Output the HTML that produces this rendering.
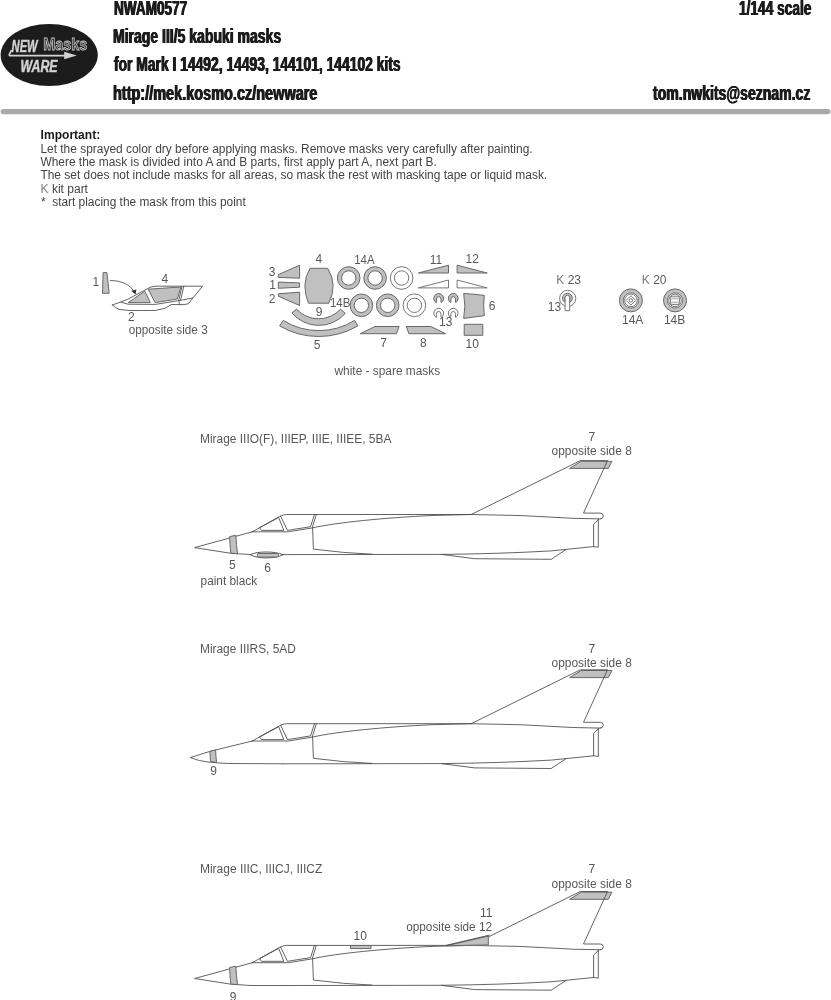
<!DOCTYPE html>
<html lang="en">
<head>
<meta charset="utf-8">
<title>NWAM0577 Mirage III/5 kabuki masks</title>
<style>
html,body{margin:0;padding:0;background:#fff;}
#page{position:absolute;left:0;top:0;width:831px;height:1000px;overflow:hidden;background:#fff;filter:grayscale(1);}
body{width:831px;height:1000px;overflow:hidden;position:relative;}
svg{display:block;position:absolute;left:0;top:0;}
text{font-family:"Liberation Sans",sans-serif;}
.h{position:absolute;white-space:nowrap;font-family:"Liberation Sans",sans-serif;font-weight:bold;font-size:21px;line-height:1;color:#1c1c1c;transform-origin:0 0;text-shadow:0.7px 0 0 #1c1c1c,-0.7px 0 0 #1c1c1c;margin:0;padding:0;}
.ln{fill:none;stroke:#484848;stroke-width:0.85;stroke-linejoin:round;stroke-linecap:round;}
.mk{fill:#c0c0c0;stroke:#686868;stroke-width:1;stroke-linejoin:round;}
.sp{fill:#fff;stroke:#686868;stroke-width:0.9;stroke-linejoin:round;}
</style>
</head>
<body>
<div id="page">
<svg width="831" height="1000" viewBox="0 0 831 1000" font-size="12" fill="#585858">

<g class="logo">
<ellipse cx="49.2" cy="55" rx="48.6" ry="31" fill="#1c1c1c"/>
<text x="11.6" y="52" font-size="17.2" font-weight="bold" font-style="italic" fill="#d2d2d2" stroke="#d2d2d2" stroke-width="0.5" textLength="26" lengthAdjust="spacingAndGlyphs">NEW</text>
<text x="20.6" y="72" font-size="17.2" font-weight="bold" font-style="italic" fill="#d2d2d2" stroke="#d2d2d2" stroke-width="0.5" textLength="37" lengthAdjust="spacingAndGlyphs">WARE</text>
<text x="43.2" y="49.8" font-size="16.8" font-weight="bold" fill="#3a3a3a" stroke="#c4c4c4" stroke-width="0.8" textLength="44.2" lengthAdjust="spacingAndGlyphs">Masks</text>
<path d="M11.4 50 L9.4 54.4 Q8.8 55.7 10.6 55.7 L66 55.7" fill="none" stroke="#d2d2d2" stroke-width="1.7" stroke-linejoin="round"/>
<path d="M64.2 51.8 L76.8 55.5 L64.2 59.2 Z" fill="#d2d2d2"/>
</g>
<rect x="0.6" y="109" width="829.8" height="5.2" rx="2.6" fill="#a9a9a9"/>
<g>
<text x="40.6" y="139" fill="#1a1a1a" font-weight="bold" textLength="59.6" lengthAdjust="spacingAndGlyphs">Important:</text>
<text x="40.4" y="153" fill="#444444" textLength="492.2" lengthAdjust="spacingAndGlyphs">Let the sprayed color dry before applying masks. Remove masks very carefully after painting.</text>
<text x="40.4" y="166" fill="#444444" textLength="396.4" lengthAdjust="spacingAndGlyphs">Where the mask is divided into A and B parts, first apply part A, next part B.</text>
<text x="40.4" y="179" fill="#444444" textLength="506.8" lengthAdjust="spacingAndGlyphs">The set does not include masks for all areas, so mask the rest with masking tape or liquid mask.</text>
<text x="40.6" y="192.6" fill="#444444"><tspan fill="#7c7c7c">K</tspan> kit part</text>
<text x="41" y="205.6" fill="#444444">* <tspan x="52.2" textLength="193.6" lengthAdjust="spacingAndGlyphs">start placing the mask from this point</tspan></text>
</g>
<g class="canopy">
<path class="mk" d="M103.1 272.6 L106.9 272.6 L109.2 293.3 L102.5 293.3 Z"/>
<text x="95.8" y="286.3" text-anchor="middle">1</text>
<path class="ln" d="M110.3 280.5 C122 280.5 131 285 134.6 292.5"/>
<path d="M135.6 294.6 L131.2 290.8 L136.4 289.6 Z" fill="#333"/>
<path class="ln" d="M112.5 305 L127.5 299.4 L145 290 Q150.5 286.4 155 286.2 L202.6 286.2 L188.2 303.8 Q184 305 180 304.6 L171.3 304.5 L165 308.3 L155 310.5 L130 310.5 L119 309.4 Q115 307.5 112.5 305 Z"/>
<path class="ln" d="M121.3 302.3 L128 304.2 L155.5 304.4 L179.4 300.5 L192.6 298.1"/>
<path class="mk" d="M128.2 302.6 L144.8 291.2 L150.3 302.6 Z"/>
<path class="mk" d="M148.2 289.2 L180.8 287 L177.4 299 L155.1 302.6 Z"/>
<path class="ln" d="M182 286.4 L178.9 299.6 L179.4 304.5 M183.8 286.4 L180.6 300"/>
<text x="164.8" y="283.1" text-anchor="middle">4</text>
<text x="131.4" y="321" text-anchor="middle">2</text>
<text x="128.7" y="334" textLength="79" lengthAdjust="spacingAndGlyphs">opposite side 3</text>
</g>
<g class="sheet">
<text x="272" y="276" text-anchor="middle">3</text>
<text x="272.6" y="289" text-anchor="middle">1</text>
<text x="272" y="302.8" text-anchor="middle">2</text>
<path class="mk" d="M278.3 274.7 L299.6 265.2 L299.6 278.2 L278.3 277.4 Z"/>
<path class="mk" d="M278.3 282.1 L299.6 282.9 L299.6 287.2 L278.3 288.3 Z"/>
<path class="mk" d="M278.3 293.8 L299.6 292.2 L299.6 305.5 L278.3 296.2 Z"/>
<path class="mk" d="M310.1 268.3 L327.6 268.3 Q333.1 277 333.1 285.7 Q333.1 295 328.8 303.2 L308.5 303.2 Q304.9 295 304.9 285.7 Q304.9 277 310.1 268.3 Z"/>
<text x="318.9" y="263" text-anchor="middle">4</text>
<text x="364.4" y="264.4" text-anchor="middle" textLength="20.4" lengthAdjust="spacingAndGlyphs">14A</text>
<text x="340.2" y="307" text-anchor="middle" textLength="20.4" lengthAdjust="spacingAndGlyphs">14B</text>
<path class="mk" fill-rule="evenodd" d="M337.4 278 a11.3 11.3 0 1 0 22.6 0 a11.3 11.3 0 1 0 -22.6 0 Z M341.5 278 a7.2 7.2 0 1 0 14.4 0 a7.2 7.2 0 1 0 -14.4 0 Z"/>
<path class="mk" fill-rule="evenodd" d="M363.8 278 a11.3 11.3 0 1 0 22.6 0 a11.3 11.3 0 1 0 -22.6 0 Z M367.90000000000003 278 a7.2 7.2 0 1 0 14.4 0 a7.2 7.2 0 1 0 -14.4 0 Z"/>
<path class="sp" fill-rule="evenodd" d="M390.3 278 a11.3 11.3 0 1 0 22.6 0 a11.3 11.3 0 1 0 -22.6 0 Z M394.40000000000003 278 a7.2 7.2 0 1 0 14.4 0 a7.2 7.2 0 1 0 -14.4 0 Z"/>
<path class="mk" fill-rule="evenodd" d="M350.09999999999997 305.3 a11.3 11.3 0 1 0 22.6 0 a11.3 11.3 0 1 0 -22.6 0 Z M354.2 305.3 a7.2 7.2 0 1 0 14.4 0 a7.2 7.2 0 1 0 -14.4 0 Z"/>
<path class="mk" fill-rule="evenodd" d="M376.4 305.3 a11.3 11.3 0 1 0 22.6 0 a11.3 11.3 0 1 0 -22.6 0 Z M380.5 305.3 a7.2 7.2 0 1 0 14.4 0 a7.2 7.2 0 1 0 -14.4 0 Z"/>
<path class="sp" fill-rule="evenodd" d="M403.09999999999997 305.3 a11.3 11.3 0 1 0 22.6 0 a11.3 11.3 0 1 0 -22.6 0 Z M407.2 305.3 a7.2 7.2 0 1 0 14.4 0 a7.2 7.2 0 1 0 -14.4 0 Z"/>
<path class="mk" d="M291.8 312.9 A35.3 35.3 0 0 0 345.3 313.4 L340.6 309.1 A29.9 29.9 0 0 1 296.5 309.1 Z"/>
<path class="mk" d="M279.6 325.9 A77.4 77.4 0 0 0 357.8 325.9 L354.6 320.4 A67.6 67.6 0 0 1 283.2 320.4 Z"/>
<text x="319.1" y="315.8" text-anchor="middle">9</text>
<text x="317.1" y="349.3" text-anchor="middle">5</text>
<path class="mk" d="M360.1 333.7 L375 326.5 L399.1 326.5 L396.4 333.7 Z"/>
<path class="mk" d="M406.3 326.5 L430.8 326.5 L445.7 333.7 L408.9 333.7 Z"/>
<text x="383.6" y="346.9" text-anchor="middle">7</text>
<text x="423.3" y="347.4" text-anchor="middle">8</text>
<path class="mk" d="M418.3 273 L448.5 265.2 L448.5 273 Z"/>
<path class="mk" d="M457.1 265.2 L487.2 273 L457.1 273 Z"/>
<path class="sp" d="M418.3 287.9 L448.5 280 L448.5 287.9 Z"/>
<path class="sp" d="M457.1 280 L487.2 287.9 L457.1 287.9 Z"/>
<text x="436" y="264" text-anchor="middle">11</text>
<text x="472.3" y="262.9" text-anchor="middle">12</text>
<path class="mk" d="M436.09999999999997 302.59999999999997 A4.9 4.9 0 1 1 441.3 302.59999999999997 L441.0 302.4 L441.0 299.0 A2.3 2.3 0 0 0 436.4 299.0 L436.4 302.4 Z"/>
<path class="mk" d="M450.59999999999997 302.59999999999997 A4.9 4.9 0 1 1 455.8 302.59999999999997 L455.5 302.4 L455.5 299.0 A2.3 2.3 0 0 0 450.9 299.0 L450.9 302.4 Z"/>
<path class="sp" d="M436.09999999999997 317.4 A4.9 4.9 0 1 1 441.3 317.4 L441.0 317.2 L441.0 313.8 A2.3 2.3 0 0 0 436.4 313.8 L436.4 317.2 Z"/>
<path class="sp" d="M450.59999999999997 317.4 A4.9 4.9 0 1 1 455.8 317.4 L455.5 317.2 L455.5 313.8 A2.3 2.3 0 0 0 450.9 313.8 L450.9 317.2 Z"/>
<text x="445.7" y="326.3" text-anchor="middle">13</text>
<path class="mk" d="M463.7 293.5 Q474 294 484.3 295.4 Q483 305.5 484.3 315.7 Q474 317 463.7 318.4 Q466 306 463.7 293.5 Z"/>
<text x="492.2" y="310.2" text-anchor="middle">6</text>
<rect class="mk" x="464.2" y="324.3" width="18.6" height="11"/>
<text x="472.3" y="347.9" text-anchor="middle">10</text>
<text x="334.5" y="375.3" textLength="105.7" lengthAdjust="spacingAndGlyphs">white - spare masks</text>
</g>
<g class="kparts">
<text x="556.3" y="284.1"><tspan fill="#7c7c7c">K</tspan> 23</text>
<text x="641.8" y="284.1"><tspan fill="#7c7c7c">K</tspan> 20</text>
<text x="554.4" y="310.6" text-anchor="middle">13</text>
<circle class="sp" cx="567.7" cy="298.4" r="8.1"/>
<path class="mk" d="M564.4 302 A4.9 4.9 0 1 1 570.4 302 L569.7 302 L569.7 297 L565.1 297 L565.1 302 Z"/>
<path class="sp" d="M565.1 310.7 L565.1 297.6 A2.3 2.3 0 0 1 569.7 297.6 L569.7 310.7 Z"/>
<circle class="mk" cx="630.9" cy="300.4" r="11.5"/>
<circle class="sp" cx="630.9" cy="300.4" r="7.6"/>
<circle class="sp" cx="630.9" cy="300.4" r="6.3"/>
<circle class="mk" cx="675.0" cy="300.4" r="11.5"/>
<circle class="sp" cx="675.0" cy="300.4" r="7.6"/>
<circle class="sp" cx="675.0" cy="300.4" r="6.3"/>
<path class="sp" d="M626.2 300.4 L630.9 295.7 L635.6 300.4 L630.9 305.1 Z"/>
<circle class="sp" cx="630.9" cy="300.4" r="1.7"/>
<rect class="sp" x="670.6" y="296.2" width="8.8" height="8.4" rx="1.6"/>
<rect x="671.4" y="297.4" width="7.2" height="2" fill="#c0c0c0"/>
<rect x="671.4" y="301.4" width="7.2" height="2" fill="#c0c0c0"/>
<text x="632.7" y="324" text-anchor="middle">14A</text>
<text x="674.6" y="324" text-anchor="middle">14B</text>
</g>
<g transform="translate(0,0.3)">
<path class="ln" d="M252.3 531.5 L194.6 547.3 L230.8 553 L251 554.3 L283 554.3"/>
<path class="mk" fill="#b6b6b6" d="M229.6 536.3 L235.8 535 Q236.3 544 237.5 553.4 L230.8 552.8 Q229.8 544 229.6 536.3 Z"/>
<path class="ln" d="M252.3 531.5 L279.8 516.1 Q283.5 514.2 286.5 514.2 L470.8 514.2"/>
<path class="ln" d="M278.3 517.4 L259.5 527.4 L261.5 530.1 L283.4 530.1 Z M280.6 515.8 L287.5 530.1 L310.6 526.4 L314.4 514.3 M316.3 514.3 L312.3 527.4"/>
<path class="ln" d="M252.3 531.5 L288.4 531.5 L312.4 527.6 C336 522.2 385 517.4 432 515.2 L471.2 514.2"/>
<path class="ln" d="M471.2 514.2 Q520 514.4 572.8 518 L600.3 518.6"/>
<path class="mk" fill="#b6b6b6" d="M569.6 468.1 L581.2 461 L611.9 461 L608.3 468.1 Z"/>
<path class="ln" d="M471.2 514.2 L580.3 460.3 L607.5 460.3 L583.5 512.8 L600.3 512.8 Q603.3 512.8 603.3 515.7 Q603.3 518.6 600.3 518.6"/>
<path class="ln" d="M598.3 518.6 L598.3 546.9 L593.6 546.3 L593.6 523.8 L598.3 519.4"/>
<path class="ln" d="M283 554.3 L441.4 554.1 Q500 553.5 551.2 550.6 L593.6 546.3"/>
<path class="ln" d="M441.4 554.1 L474.6 558.4 L551.2 559 L565.6 549.5"/>
<path class="ln" d="M312.6 527.6 L313.4 548.8 L343.3 552.1 L372 553.9"/>
<path class="sp" style="stroke:#484848" d="M250.3 554.4 Q256 551.7 266 551.7 Q277 551.7 283 554.4 Q277 557.6 266 557.6 Q256 557.6 250.3 554.4 Z"/>
<rect class="mk" fill="#b6b6b6" x="257.4" y="553.2" width="21" height="3.6" rx="1"/>
</g>
<text x="200.0" y="443.2" textLength="191.4" lengthAdjust="spacingAndGlyphs">Mirage IIIO(F), IIIEP, IIIE, IIIEE, 5BA</text>
<text x="591.9" y="441" text-anchor="middle">7</text>
<text x="551.6" y="455" textLength="80.2" lengthAdjust="spacingAndGlyphs">opposite side 8</text>
<text x="232.4" y="569" text-anchor="middle">5</text>
<text x="267.6" y="572" text-anchor="middle">6</text>
<text x="200.6" y="584.7" textLength="56.5" lengthAdjust="spacingAndGlyphs">paint black</text>
<g transform="translate(0,209.5)">
<path class="ln" d="M252.3 531.5 L209.9 541.9 L190.2 548.1 L199.3 551 Q208 552.8 216.6 553.3 L228.2 554 L283 554.3"/>
<path class="mk" fill="#b6b6b6" d="M209.9 541.9 L215.6 540.5 Q215.8 547 216.6 552.9 L210.6 552.1 Q210 547 209.9 541.9 Z"/>
<path class="ln" d="M252.3 531.5 L279.8 516.1 Q283.5 514.2 286.5 514.2 L470.8 514.2"/>
<path class="ln" d="M278.3 517.4 L259.5 527.4 L261.5 530.1 L283.4 530.1 Z M280.6 515.8 L287.5 530.1 L310.6 526.4 L314.4 514.3 M316.3 514.3 L312.3 527.4"/>
<path class="ln" d="M252.3 531.5 L288.4 531.5 L312.4 527.6 C336 522.2 385 517.4 432 515.2 L471.2 514.2"/>
<path class="ln" d="M471.2 514.2 Q520 514.4 572.8 518 L600.3 518.6"/>
<path class="mk" fill="#b6b6b6" d="M569.6 468.1 L581.2 461 L611.9 461 L608.3 468.1 Z"/>
<path class="ln" d="M471.2 514.2 L580.3 460.3 L607.5 460.3 L583.5 512.8 L600.3 512.8 Q603.3 512.8 603.3 515.7 Q603.3 518.6 600.3 518.6"/>
<path class="ln" d="M598.3 518.6 L598.3 546.9 L593.6 546.3 L593.6 523.8 L598.3 519.4"/>
<path class="ln" d="M283 554.3 L441.4 554.1 Q500 553.5 551.2 550.6 L593.6 546.3"/>
<path class="ln" d="M441.4 554.1 L474.6 558.4 L551.2 559 L565.6 549.5"/>
<path class="ln" d="M312.6 527.6 L313.4 548.8 L343.3 552.1 L372 553.9"/>
</g>
<text x="200.0" y="653" textLength="95.8" lengthAdjust="spacingAndGlyphs">Mirage IIIRS, 5AD</text>
<text x="591.9" y="653" text-anchor="middle">7</text>
<text x="551.6" y="667" textLength="80.2" lengthAdjust="spacingAndGlyphs">opposite side 8</text>
<text x="213.6" y="774.7" text-anchor="middle">9</text>
<g transform="translate(0,431.2)">
<path class="ln" d="M252.3 531.5 L194.6 547.3 L230.8 553 L251 554.3 L283 554.3"/>
<path class="mk" fill="#b6b6b6" d="M229.6 536.3 L235.8 535 Q236.3 544 237.5 553.4 L230.8 552.8 Q229.8 544 229.6 536.3 Z"/>
<path class="ln" d="M252.3 531.5 L279.8 516.1 Q283.5 514.2 286.5 514.2 L470.8 514.2"/>
<path class="ln" d="M278.3 517.4 L259.5 527.4 L261.5 530.1 L283.4 530.1 Z M280.6 515.8 L287.5 530.1 L310.6 526.4 L314.4 514.3 M316.3 514.3 L312.3 527.4"/>
<path class="ln" d="M252.3 531.5 L288.4 531.5 L312.4 527.6 C336 522.2 385 517.4 432 515.2 L471.2 514.2"/>
<path class="ln" d="M471.2 514.2 Q520 514.4 572.8 518 L600.3 518.6"/>
<path class="mk" fill="#b6b6b6" d="M569.6 468.1 L581.2 461 L611.9 461 L608.3 468.1 Z"/>
<path class="ln" d="M471.2 514.2 L580.3 460.3 L607.5 460.3 L583.5 512.8 L600.3 512.8 Q603.3 512.8 603.3 515.7 Q603.3 518.6 600.3 518.6"/>
<path class="ln" d="M598.3 518.6 L598.3 546.9 L593.6 546.3 L593.6 523.8 L598.3 519.4"/>
<path class="ln" d="M283 554.3 L441.4 554.1 Q500 553.5 551.2 550.6 L593.6 546.3"/>
<path class="ln" d="M441.4 554.1 L474.6 558.4 L551.2 559 L565.6 549.5"/>
<path class="ln" d="M312.6 527.6 L313.4 548.8 L343.3 552.1 L372 553.9"/>
<rect class="mk" fill="#b6b6b6" x="350.6" y="514.3" width="20.4" height="3.1"/>
<path class="mk" fill="#b6b6b6" d="M446.5 514.5 L488.3 504.9 L488.3 513.7 Z"/>
<path class="ln" d="M446 514.2 L489.4 503.9"/>
</g>
<text x="200.0" y="873.4" textLength="122.3" lengthAdjust="spacingAndGlyphs">Mirage IIIC, IIICJ, IIICZ</text>
<text x="591.9" y="873" text-anchor="middle">7</text>
<text x="551.6" y="887.5" textLength="80.2" lengthAdjust="spacingAndGlyphs">opposite side 8</text>
<text x="360.2" y="940.2" text-anchor="middle">10</text>
<text x="486.2" y="916.6" text-anchor="middle">11</text>
<text x="406.2" y="931" textLength="85.8" lengthAdjust="spacingAndGlyphs">opposite side 12</text>
<text x="233.1" y="1001" text-anchor="middle">9</text>
</svg>
<div class="h" style="left:113.5px;top:-2.78px;transform:scaleX(0.6466)">NWAM0577</div>
<div class="h" style="left:112.8px;top:25.32px;transform:scaleX(0.6671)">Mirage III/5 kabuki masks</div>
<div class="h" style="left:113.5px;top:53.42px;transform:scaleX(0.6598)">for Mark I 14492, 14493, 144101, 144102 kits</div>
<div class="h" style="left:113.4px;top:81.82px;transform:scaleX(0.6896)">http://mek.kosmo.cz/newware</div>
<div class="h" style="left:739.0px;top:-2.78px;transform:scaleX(0.6526)">1/144 scale</div>
<div class="h" style="left:653.0px;top:81.82px;transform:scaleX(0.6692)">tom.nwkits@seznam.cz</div>
</div>
</body>
</html>
